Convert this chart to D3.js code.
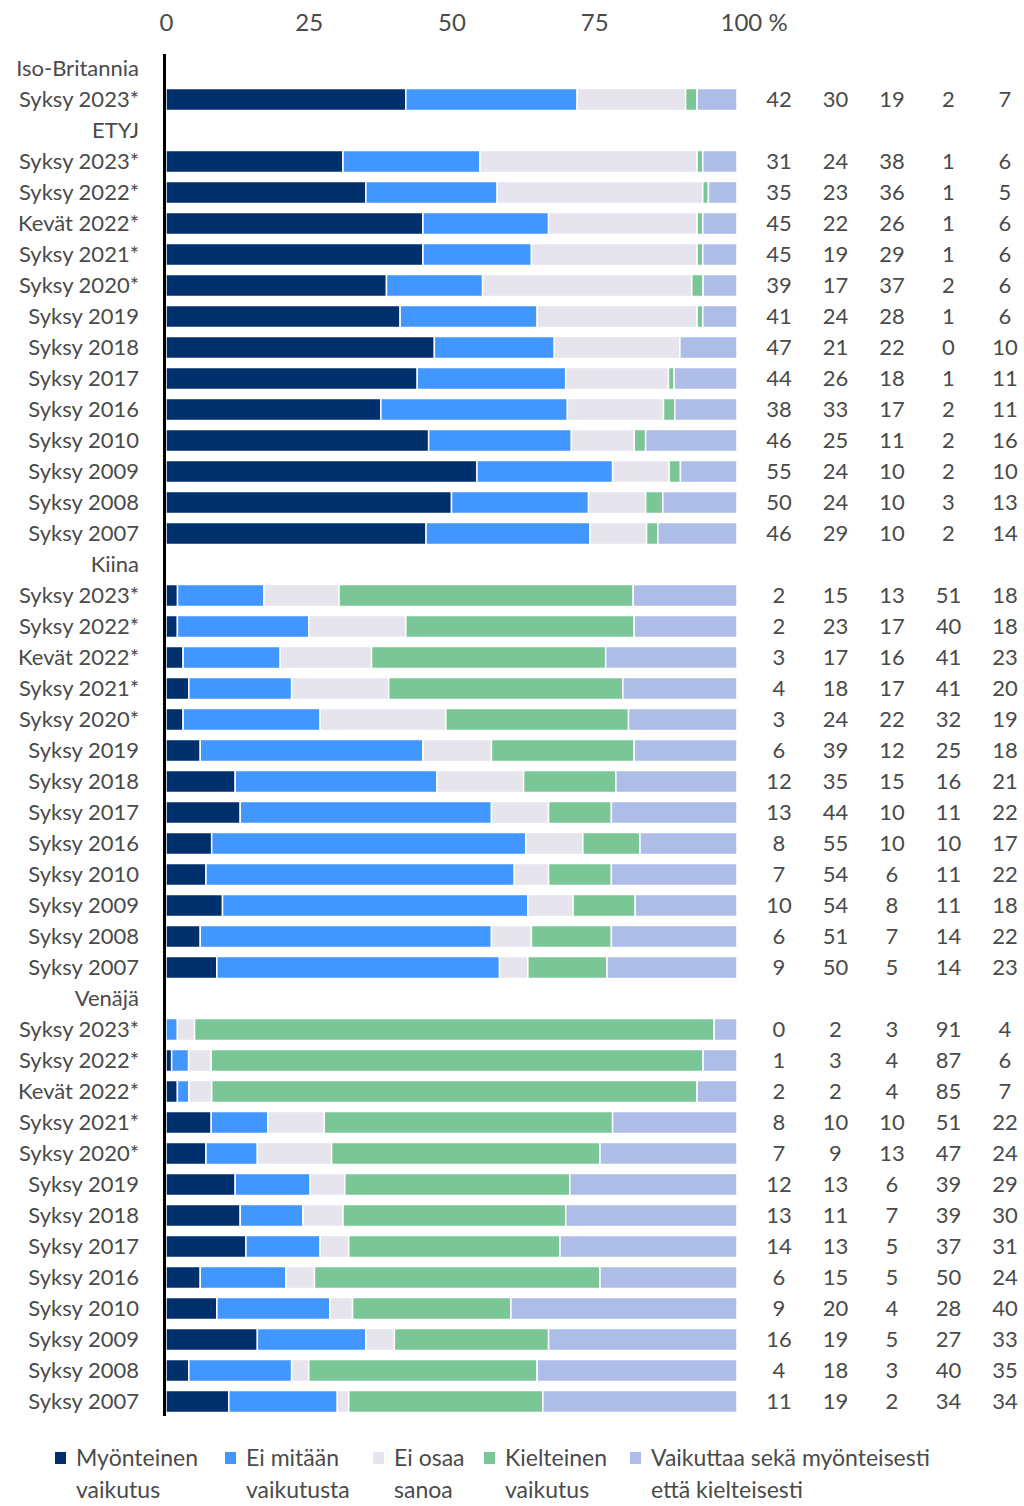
<!DOCTYPE html>
<html>
<head>
<meta charset="utf-8">
<script src="https://cdn.jsdelivr.net/npm/d3@7"></script>
<style>
  body { margin: 0; background: #fff; }
  svg text { font-family: Lato, "Open Sans", sans-serif; fill: #4a4a4a; }
</style>
</head>
<body>
<div id="chart"></div>
<script>
const seriesNames = ["Myönteinen vaikutus", "Ei mitään vaikutusta", "Ei osaa sanoa", "Kielteinen vaikutus", "Vaikuttaa sekä myönteisesti että kielteisesti"];
const legendLines = [["Myönteinen", "vaikutus"], ["Ei mitään", "vaikutusta"], ["Ei osaa", "sanoa"], ["Kielteinen", "vaikutus"], ["Vaikuttaa sekä myönteisesti", "että kielteisesti"]];
const colors = ["#00306b", "#4196ff", "#e6e4ec", "#7bc697", "#adbde8"];
const ticks = [0, 25, 50, 75, 100];

const countries = ["Iso-Britannia", "ETYJ", "Kiina", "Venäjä"];
const ukPeriods = ["Syksy 2023*"];
const periods = ["Syksy 2023*", "Syksy 2022*", "Kevät 2022*", "Syksy 2021*", "Syksy 2020*", "Syksy 2019",
  "Syksy 2018", "Syksy 2017", "Syksy 2016", "Syksy 2010", "Syksy 2009", "Syksy 2008", "Syksy 2007"];

const ukValues = [[42, 30, 19, 2, 7]];
const etyjValues = [
  [31, 24, 38, 1, 6], [35, 23, 36, 1, 5], [45, 22, 26, 1, 6], [45, 19, 29, 1, 6], [39, 17, 37, 2, 6],
  [41, 24, 28, 1, 6], [47, 21, 22, 0, 10], [44, 26, 18, 1, 11], [38, 33, 17, 2, 11], [46, 25, 11, 2, 16],
  [55, 24, 10, 2, 10], [50, 24, 10, 3, 13], [46, 29, 10, 2, 14]
];
const kiinaValues = [
  [2, 15, 13, 51, 18], [2, 23, 17, 40, 18], [3, 17, 16, 41, 23], [4, 18, 17, 41, 20], [3, 24, 22, 32, 19],
  [6, 39, 12, 25, 18], [12, 35, 15, 16, 21], [13, 44, 10, 11, 22], [8, 55, 10, 10, 17], [7, 54, 6, 11, 22],
  [10, 54, 8, 11, 18], [6, 51, 7, 14, 22], [9, 50, 5, 14, 23]
];
const venajaValues = [
  [0, 2, 3, 91, 4], [1, 3, 4, 87, 6], [2, 2, 4, 85, 7], [8, 10, 10, 51, 22], [7, 9, 13, 47, 24],
  [12, 13, 6, 39, 29], [13, 11, 7, 39, 30], [14, 13, 5, 37, 31], [6, 15, 5, 50, 24], [9, 20, 4, 28, 40],
  [16, 19, 5, 27, 33], [4, 18, 3, 40, 35], [11, 19, 2, 34, 34]
];

// build the row list: a header row for each country followed by its periods
const groups = [
  [countries[0], ukPeriods, ukValues],
  [countries[1], periods, etyjValues],
  [countries[2], periods, kiinaValues],
  [countries[3], periods, venajaValues]
];
const rows = [];
groups.forEach(([name, pers, vals]) => {
  rows.push({ id: rows.length, label: name, header: true });
  pers.forEach((p, i) => {
    const r = { id: rows.length, label: p, header: false, values: vals[i] };
    seriesNames.forEach((s, k) => r[s] = vals[i][k]);
    rows.push(r);
  });
});
const dataRows = rows.filter(d => !d.header);

const width = 1024, height = 1506;
const svg = d3.select("#chart").append("svg")
  .attr("width", width)
  .attr("height", height);

const xScale = d3.scaleLinear().domain([0, 1]).range([166, 737]);
const yScale = d3.scaleBand().domain(rows.map(d => d.id)).range([53, 53 + rows.length * 31]).paddingInner(0.29).paddingOuter(0.145);

const stack = d3.stack().keys(seriesNames).offset(d3.stackOffsetExpand);
const stacked = stack(dataRows);

svg.append("g")
  .selectAll("g")
  .data(stacked)
  .join("g")
  .attr("fill", (d, i) => colors[i])
  .selectAll("rect")
  .data(d => d)
  .join("rect")
  .attr("x", d => xScale(d[0]))
  .attr("y", d => yScale(d.data.id))
  .attr("width", d => Math.max(0, xScale(d[1]) - xScale(d[0])))
  .attr("height", yScale.bandwidth())
  .attr("stroke", "#fff")
  .attr("stroke-width", 1.5);

// top axis
const xAxis = d3.axisTop(d3.scaleLinear().domain([0, 100]).range(xScale.range()))
  .tickValues(ticks)
  .tickSize(0)
  .tickPadding(0)
  .tickFormat(d => d === 100 ? "100 %" : d);
const axisG = svg.append("g")
  .attr("transform", "translate(0,31)")
  .call(xAxis);
axisG.select(".domain").remove();
axisG.selectAll("text")
  .attr("font-size", "24px")
  .attr("dy", "0")
  .attr("fill", "#4a4a4a");
axisG.selectAll(".tick").filter(d => d === 100).select("text")
  .attr("text-anchor", "start")
  .attr("dx", "-17");

// left row labels
svg.append("g")
  .selectAll("text")
  .data(rows)
  .join("text")
  .attr("x", 139)
  .attr("y", d => yScale(d.id) + yScale.bandwidth() / 2)
  .attr("dy", "0.36em")
  .attr("text-anchor", "end")
  .attr("font-size", "22px")
  .text(d => d.label);

// baseline
svg.append("line")
  .attr("x1", 164.5)
  .attr("x2", 164.5)
  .attr("y1", 54)
  .attr("y2", 1416)
  .attr("stroke", "#000")
  .attr("stroke-width", 3);

// value columns
const colX = d3.scalePoint().domain(seriesNames).range([779, 1005]);
const valueG = svg.append("g");
dataRows.forEach(r => {
  valueG.selectAll(null)
    .data(seriesNames)
    .join("text")
    .attr("x", s => colX(s))
    .attr("y", yScale(r.id) + yScale.bandwidth() / 2)
    .attr("dy", "0.36em")
    .attr("text-anchor", "middle")
    .attr("font-size", "22px")
    .text(s => r[s]);
});

// legend
const legendX = [55, 225, 373, 484, 630];
const legend = svg.append("g")
  .selectAll("g")
  .data(seriesNames)
  .join("g")
  .attr("transform", (d, i) => `translate(${legendX[i]},1458)`);
legend.append("rect")
  .attr("x", 0)
  .attr("y", -6)
  .attr("width", 11)
  .attr("height", 12)
  .attr("fill", (d, i) => colors[i]);
legend.append("text")
  .attr("x", 21)
  .attr("y", 0)
  .attr("dy", "0.36em")
  .attr("font-size", "23px")
  .text((d, i) => legendLines[i][0]);
legend.append("text")
  .attr("x", 21)
  .attr("y", 32)
  .attr("dy", "0.36em")
  .attr("font-size", "23px")
  .text((d, i) => legendLines[i][1]);
</script>
</body>
</html>
